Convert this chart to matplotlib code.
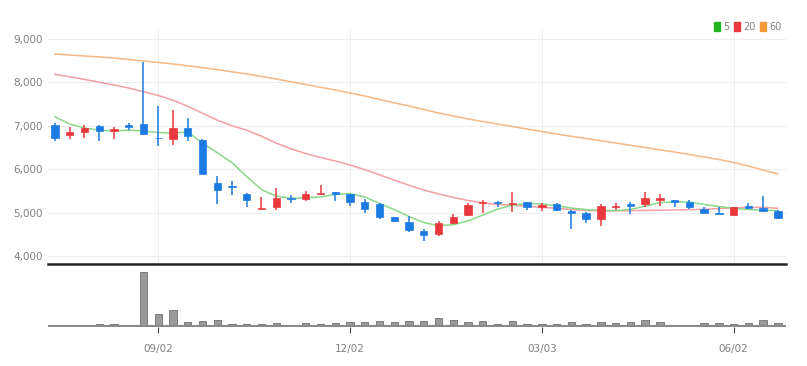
import matplotlib
matplotlib.use("Agg")
import matplotlib.pyplot as plt
from matplotlib.patches import Patch

# weekly candles (50 weeks)
open_ = [7020, 6780, 6850, 7000, 6880, 7020, 7040, 6730, 6690, 6940,
         6680, 5690, 5610, 5430, 5080, 5120, 5340, 5310, 5430, 5480,
         5420, 5250, 5190, 4890, 4780, 4570, 4510, 4760, 4950, 5210,
         5250, 5200, 5250, 5130, 5200, 5040, 4980, 4850, 5130, 5190,
         5190, 5280, 5300, 5240, 5080, 4990, 4950, 5150, 5110, 5040]
high = [7070, 6970, 7020, 7020, 6980, 7060, 8460, 7460, 7360, 7170,
        6690, 5840, 5730, 5460, 5350, 5570, 5410, 5500, 5630, 5480,
        5440, 5310, 5210, 4910, 4920, 4620, 4810, 4970, 5210, 5280,
        5270, 5480, 5250, 5230, 5210, 5060, 5020, 5190, 5230, 5240,
        5480, 5440, 5300, 5300, 5140, 5140, 5140, 5210, 5390, 5060]
low = [6660, 6690, 6730, 6650, 6690, 6900, 6780, 6530, 6560, 6650,
       5890, 5200, 5400, 5140, 5080, 5070, 5230, 5270, 5430, 5270,
       5160, 4980, 4860, 4780, 4560, 4350, 4460, 4740, 4930, 5000,
       5120, 5020, 5060, 5040, 5040, 4620, 4770, 4690, 5060, 4970,
       5140, 5150, 5120, 5080, 4980, 4960, 4940, 5080, 5020, 4850]
close = [6720, 6860, 6960, 6870, 6920, 6980, 6810, 6710, 6940, 6770,
         5900, 5520, 5600, 5290, 5100, 5340, 5320, 5420, 5460, 5430,
         5250, 5080, 4910, 4810, 4600, 4490, 4750, 4900, 5170, 5240,
         5220, 5230, 5140, 5170, 5060, 4990, 4850, 5150, 5150, 5160,
         5330, 5330, 5240, 5120, 4990, 4970, 5130, 5100, 5040, 4870]

ma5 = [7210, 7040, 6950, 6900, 6880, 6900, 6880, 6845, 6830, 6860,
       6600, 6380, 6150, 5830, 5530, 5380, 5330, 5340, 5360, 5420,
       5440, 5360, 5210, 5070, 4910, 4770, 4700, 4720, 4810, 4945,
       5080, 5170, 5210, 5200, 5160, 5105, 5070, 5050, 5045, 5070,
       5150, 5230, 5250, 5240, 5190, 5140, 5100, 5070, 5055, 5045]
ma20 = [8187, 8130, 8070, 8005, 7940, 7870, 7786, 7700, 7590, 7450,
        7290, 7130, 7000, 6900, 6760, 6600, 6470, 6360, 6270, 6190,
        6100, 5990, 5870, 5750, 5630, 5520, 5430, 5350, 5280, 5220,
        5190, 5170, 5150, 5120, 5100, 5070, 5050, 5040, 5040, 5045,
        5050, 5055, 5060, 5070, 5075, 5090, 5110, 5120, 5120, 5100]
ma60 = [8654, 8631, 8608, 8585, 8562, 8528, 8493, 8459, 8424, 8383,
        8339, 8295, 8244, 8194, 8136, 8078, 8014, 7952, 7887, 7825,
        7756, 7687, 7606, 7530, 7456, 7376, 7295, 7226, 7157, 7099,
        7042, 6984, 6926, 6869, 6811, 6758, 6707, 6655, 6604, 6551,
        6500, 6447, 6396, 6339, 6281, 6224, 6155, 6074, 5982, 5890]

volume = [10, 10, 10, 17, 17, 12, 540, 125, 157, 45,
          55, 62, 25, 25, 25, 30, 14, 28, 25, 30,
          40, 40, 48, 40, 47, 47, 80, 63, 40, 47,
          23, 47, 23, 23, 23, 40, 20, 40, 27, 40,
          57, 40, 12, 12, 27, 30, 23, 33, 60, 30]

tick_pos = [7, 20, 33, 46]
tick_labels = ["09/02", "12/02", "03/03", "06/02"]

red = "#e8383d"
blue = "#1b7be3"
grid_c = "#eeeeee"
text_c = "#808080"

W, H = 807, 366
fig = plt.figure(figsize=(W / 100, H / 100), dpi=100)

# price panel
ax = fig.add_axes([48 / W, 1 - 264 / H, (786 - 48) / W, (264 - 30) / H])
# volume panel
axv = fig.add_axes([48 / W, 1 - 327 / H, (786 - 48) / W, (327 - 268) / H])

x = list(range(len(close)))

for xi in tick_pos:
    ax.axvline(xi, color=grid_c, lw=0.8, zorder=0)
for v in [4000, 5000, 6000, 7000, 8000, 9000]:
    ax.axhline(v, color=grid_c, lw=0.8, zorder=0)

ax.plot(x, ma60, color="#f6b784", lw=1.1, zorder=2)
ax.plot(x, ma20, color="#f4a0a2", lw=1.1, zorder=2)
ax.plot(x, ma5, color="#8ad888", lw=1.1, zorder=2)

for i in x:
    c = red if close[i] >= open_[i] else blue
    ax.vlines(i, low[i], high[i], color=c, lw=1.1, zorder=3)
    bottom = min(open_[i], close[i])
    h = max(abs(close[i] - open_[i]), 15)
    ax.bar(i, h, bottom=bottom, width=0.5, color=c, edgecolor=c, lw=0.5, zorder=4)

ax.set_xlim(-0.47, 49.55)
ax.set_ylim(3816, 9207)
ax.set_yticks([4000, 5000, 6000, 7000, 8000, 9000])
ax.set_yticklabels(["4,000", "5,000", "6,000", "7,000", "8,000", "9,000"])
ax.tick_params(axis="y", length=0, pad=4, labelsize=7.5, colors=text_c)
ax.set_xticks([])
for s in ["top", "right", "left"]:
    ax.spines[s].set_visible(False)
ax.spines["bottom"].set_color("#222222")
ax.spines["bottom"].set_linewidth(1.8)

handles = [Patch(color="#22b422", label="5"),
           Patch(color="#e8383d", label="20"),
           Patch(color="#f29a38", label="60")]
fig.legend(handles=handles, loc="upper right", bbox_to_anchor=(786 / W, 1 - 17 / H),
           ncol=3, frameon=False, fontsize=7, handlelength=0.6, handleheight=0.9,
           handletextpad=0.3, columnspacing=0.5, labelcolor=text_c, borderpad=0)

# volume
axv.bar(x, volume, width=0.5, color="#9a9a9a", edgecolor="#6f6f6f", lw=0.6, zorder=3)
axv.axhline(0, color="#8a8a8a", lw=1.5, zorder=4)
axv.set_xlim(-0.47, 49.55)
axv.set_ylim(-10, 580)
axv.set_yticks([])
axv.set_xticks(tick_pos)
axv.set_xticklabels(tick_labels)
axv.tick_params(axis="x", length=4, width=0.8, color="#444444", pad=8, labelsize=7.5, labelcolor=text_c)
for s in ["top", "right", "left", "bottom"]:
    axv.spines[s].set_visible(False)

fig.savefig("out.png", dpi=100)
